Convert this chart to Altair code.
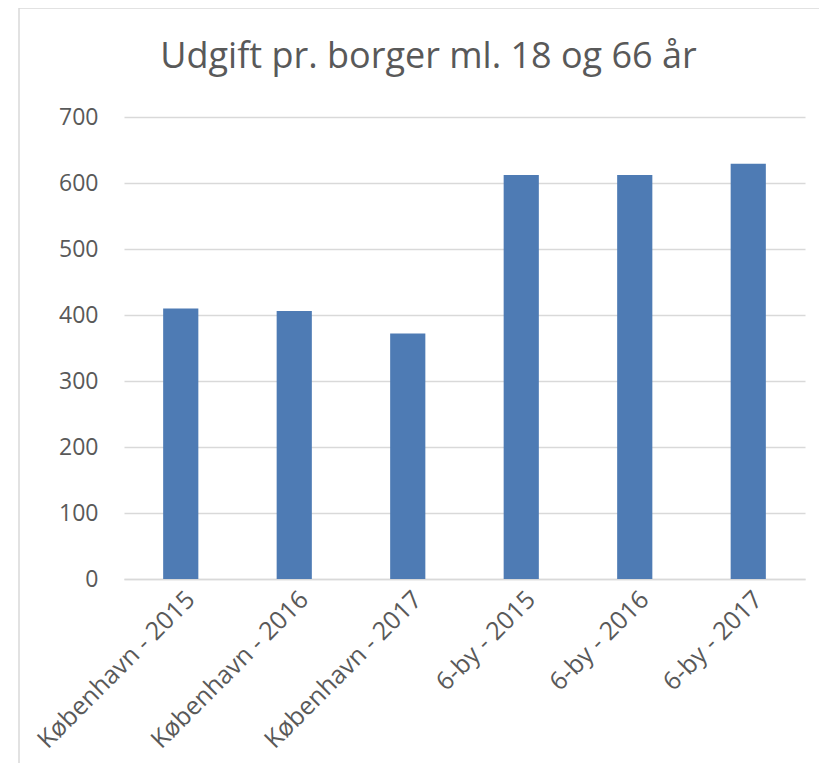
import altair as alt
import pandas as pd

categories = ["København - 2015", "København - 2016", "København - 2017",
              "6-by - 2015", "6-by - 2016", "6-by - 2017"]
values = [410, 406, 372, 612, 612, 629]
y_ticks = [0, 100, 200, 300, 400, 500, 600, 700]

df = pd.DataFrame({"kategori": categories, "udgift": values})

FONT = "Open Sans"
TXT = "#595959"

frame = alt.Chart(pd.DataFrame({"a": [0]})).mark_rect(
    fill=None, stroke="#d9d9d9", strokeWidth=1.5
).encode(
    x=alt.value(-105), x2=alt.value(900),
    y=alt.value(-109), y2=alt.value(900)
)

bars = alt.Chart(df).mark_bar(color="#4e7bb4").encode(
    x=alt.X("kategori:N", sort=categories, title=None,
            scale=alt.Scale(paddingInner=0.69, paddingOuter=0.345),
            axis=alt.Axis(labelAngle=-45, labelAlign="right", labelBaseline="middle",
                          labelFontSize=25, labelColor=TXT, labelFont=FONT,
                          labelPadding=16, labelOffset=10, ticks=False,
                          domainColor="#d9d9d9", domainWidth=1.5, grid=False,
                          labelLimit=400)),
    y=alt.Y("udgift:Q", title=None,
            scale=alt.Scale(domain=[0, 700], nice=False),
            axis=alt.Axis(values=y_ticks, ticks=False, domain=False,
                          gridColor="#d9d9d9", gridWidth=1.5,
                          labelFontSize=23, labelColor=TXT, labelFont=FONT,
                          labelPadding=26))
)

chart = alt.layer(frame, bars).properties(
    width=681, height=462,
    autosize=alt.AutoSizeParams(type="none"),
    padding={"left": 116, "top": 109, "right": 14, "bottom": 184},
    title=alt.TitleParams("Udgift pr. borger ml. 18 og 66 år", font=FONT,
                          fontSize=36, fontWeight="normal", color=TXT,
                          anchor="middle", dx=-36, offset=0, dy=69),
).configure_view(stroke=None)

chart.save("out.html", embed_options={"renderer": "svg", "actions": False})
